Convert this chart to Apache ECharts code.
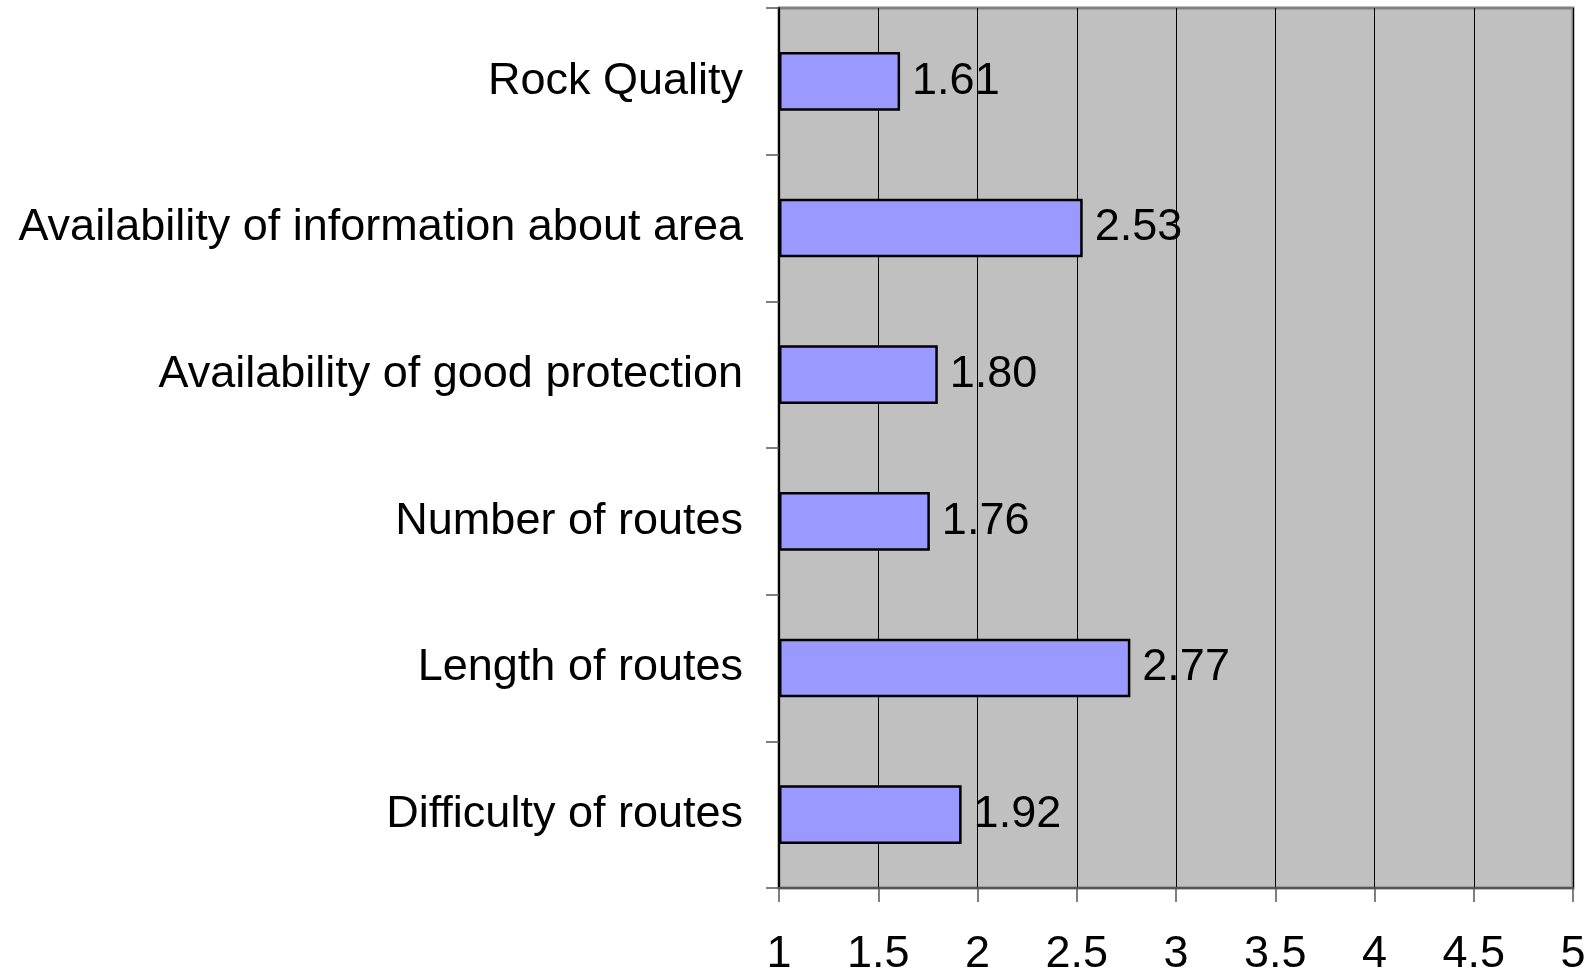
<!DOCTYPE html>
<html>
<head>
<meta charset="utf-8">
<script src="https://cdn.jsdelivr.net/npm/echarts@6/dist/echarts.min.js"></script>
<style>
  html, body { margin: 0; padding: 0; background: #ffffff; }
  #chart { width: 1589px; height: 974px; }
</style>
</head>
<body>
<div id="chart"></div>
<script>
// Climbing-area factors and their average ratings
const categories = [
  'Rock Quality',
  'Availability of information about area',
  'Availability of good protection',
  'Number of routes',
  'Length of routes',
  'Difficulty of routes'
];
const ratings = [1.61, 2.53, 1.80, 1.76, 2.77, 1.92];
const ratingTicks = [1, 1.5, 2, 2.5, 3, 3.5, 4, 4.5, 5];

const FONT = '"Liberation Sans", Arial, sans-serif';
const TEXT_SIZE = 45;

const chart = echarts.init(document.getElementById('chart'), null, { renderer: 'canvas' });

chart.setOption({
  animation: false,
  backgroundColor: '#ffffff',
  grid: {
    left: 779,
    right: 16,
    top: 8,
    bottom: 86,
    outerBoundsMode: 'none',
    containLabel: false,
    show: true,
    backgroundColor: '#c0c0c0',
    borderColor: '#808080',
    borderWidth: 3
  },
  xAxis: {
    type: 'value',
    min: ratingTicks[0],
    max: ratingTicks[ratingTicks.length - 1],
    interval: 0.5,
    startValue: ratingTicks[0],
    axisLine: { show: true, lineStyle: { color: '#555555', width: 2 } },
    axisTick: { show: true, length: 14, lineStyle: { color: '#555555', width: 1.5 } },
    splitLine: { show: true, lineStyle: { color: '#000000', width: 1 } },
    axisLabel: {
      margin: 44,
      color: '#000000',
      fontSize: TEXT_SIZE,
      fontFamily: FONT,
      showMinLabel: true,
      showMaxLabel: true
    }
  },
  yAxis: {
    type: 'category',
    data: categories,
    inverse: true,
    boundaryGap: true,
    axisLine: { show: true, lineStyle: { color: '#000000', width: 2 } },
    axisTick: { show: true, interval: 0, length: 13, lineStyle: { color: '#555555', width: 1.5 } },
    splitLine: { show: false },
    axisLabel: {
      margin: 36,
      color: '#000000',
      fontSize: TEXT_SIZE,
      fontFamily: FONT
    }
  },
  series: [{
    type: 'bar',
    data: ratings,
    barCategoryGap: '60%',
    itemStyle: { color: '#9999ff', borderColor: '#000000', borderWidth: 2.5 },
    label: {
      show: true,
      position: 'right',
      distance: 12,
      color: '#000000',
      fontSize: TEXT_SIZE,
      fontFamily: FONT,
      formatter: p => p.value.toFixed(2)
    }
  }]
});
</script>
</body>
</html>
